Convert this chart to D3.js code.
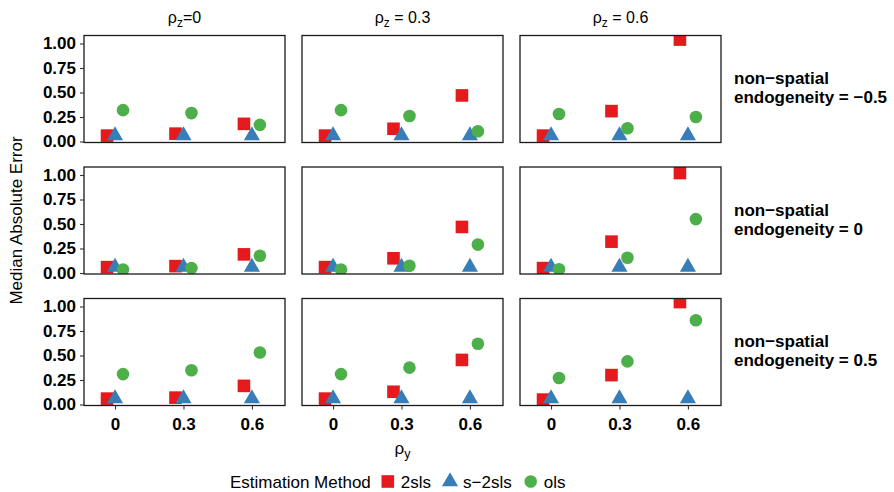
<!DOCTYPE html>
<html>
<head>
<meta charset="utf-8">
<script src="https://cdn.jsdelivr.net/npm/d3@7"></script>
<style>
body { margin: 0; background: #fff; }
text { font-family: "Liberation Sans", Arial, Helvetica, sans-serif; fill: #000; }
</style>
</head>
<body>
<div id="chart"></div>
<script>
// facet levels
var rhoY = [0, 0.3, 0.6];
var rhoYLabels = ["0", "0.3", "0.6"];
var rhoZLabels = ["=0", " = 0.3", " = 0.6"];
var endogLabels = ["\u22120.5", "0", "0.5"];
var yTicks = [0, 0.25, 0.5, 0.75, 1];
var methods = ["2sls", "s\u22122sls", "ols"];
var colors = ["#E41A1C", "#377EB8", "#4DAF4A"];

// median absolute error, [endogeneity row][rho_z column][rho_y]
var mae2sls = [
  [[0.06, 0.08, 0.18], [0.06, 0.13, 0.47], [0.06, 0.31, 1.04]],
  [[0.06, 0.07, 0.19], [0.06, 0.15, 0.47], [0.05, 0.32, 1.02]],
  [[0.06, 0.07, 0.19], [0.06, 0.13, 0.455], [0.05, 0.30, 1.045]]
];
var maeS2sls = [
  [[0.06, 0.06, 0.06], [0.06, 0.06, 0.06], [0.06, 0.06, 0.06]],
  [[0.06, 0.06, 0.06], [0.06, 0.06, 0.06], [0.06, 0.06, 0.06]],
  [[0.06, 0.06, 0.06], [0.06, 0.06, 0.06], [0.06, 0.06, 0.06]]
];
var maeOls = [
  [[0.32, 0.29, 0.17], [0.32, 0.26, 0.105], [0.28, 0.135, 0.25]],
  [[0.036, 0.05, 0.176], [0.036, 0.074, 0.29], [0.039, 0.156, 0.55]],
  [[0.31, 0.35, 0.53], [0.31, 0.376, 0.62], [0.27, 0.44, 0.86]]
];
var dodge = [-0.035, 0, 0.035];

var W = 894, H = 492;
var padLeft = 84, padTop = 35.5, pw = 201, ph = 107, hgap = 17, vgap = 24.5;

var svg = d3.select("#chart").append("svg")
  .attr("width", W).attr("height", H);

var x = d3.scaleLinear().domain([-0.136, 0.745]).range([0, pw]);
var y = d3.scaleLinear().domain([-0.0102, 1.0816]).range([ph, 0]);

var allData = [mae2sls, maeS2sls, maeOls];

function shape(g, m, color) {
  if (m === 0) {
    g.append("rect").attr("x", -6.3).attr("y", -6.3).attr("width", 12.6).attr("height", 12.6).attr("fill", color);
  } else if (m === 1) {
    var r = 9.3;
    g.append("path").attr("d", "M0," + (-r) + "L" + (r * 0.866) + "," + (r / 2) + "L" + (-r * 0.866) + "," + (r / 2) + "Z").attr("fill", color);
  } else {
    g.append("circle").attr("r", 6.3).attr("fill", color);
  }
}

var defs = svg.append("defs");

for (var row = 0; row < 3; row++) {
  for (var col = 0; col < 3; col++) {
    var px = padLeft + col * (pw + hgap), py = padTop + row * (ph + vgap);
    var id = "clip" + row + col;
    defs.append("clipPath").attr("id", id).append("rect").attr("width", pw).attr("height", ph);
    var p = svg.append("g").attr("transform", "translate(" + px + "," + py + ")");
    var inner = p.append("g").attr("clip-path", "url(#" + id + ")");
    for (var m = 0; m < 3; m++) {
      rhoY.forEach(function(ry, i) {
        var g = inner.append("g")
          .attr("transform", "translate(" + x(ry + dodge[m]) + "," + y(allData[m][row][col][i]) + ")");
        shape(g, m, colors[m]);
      });
    }
    p.append("rect").attr("width", pw).attr("height", ph)
      .attr("fill", "none").attr("stroke", "#1a1a1a").attr("stroke-width", 1.3);

    if (col === 0) {
      var ya = p.append("g").call(d3.axisLeft(y).tickValues(yTicks).tickSize(4).tickPadding(4).tickFormat(d3.format(".2f")));
      ya.select(".domain").remove();
      ya.selectAll("line").attr("stroke", "#333").attr("stroke-width", 1.1);
      ya.selectAll("text").attr("font-size", 17).attr("font-weight", "bold").attr("fill", "#000")
        .attr("font-family", "'Liberation Sans', Arial, sans-serif");
    }
    if (row === 2) {
      var xa = p.append("g").attr("transform", "translate(0," + ph + ")")
        .call(d3.axisBottom(x).tickValues(rhoY).tickSize(4).tickPadding(8).tickFormat(function(d, i) { return rhoYLabels[i]; }));
      xa.select(".domain").remove();
      xa.selectAll("line").attr("stroke", "#333").attr("stroke-width", 1.1);
      xa.selectAll("text").attr("font-size", 17).attr("font-weight", "bold").attr("fill", "#000")
        .attr("font-family", "'Liberation Sans', Arial, sans-serif");
    }
    if (row === 0) {
      var t = svg.append("text").attr("x", px + pw / 2).attr("y", 23)
        .attr("text-anchor", "middle").attr("font-size", 16);
      t.append("tspan").text("\u03c1");
      t.append("tspan").attr("dy", 4).attr("font-size", 12).text("z");
      t.append("tspan").attr("dy", -4).text(rhoZLabels[col]);
    }
    if (col === 2) {
      var s = svg.append("text").attr("font-size", 17).attr("font-weight", "bold");
      s.append("tspan").attr("x", px + pw + 13).attr("y", py + ph / 2 - 5).text("non\u2212spatial");
      s.append("tspan").attr("x", px + pw + 13).attr("y", py + ph / 2 + 14).text("endogeneity = " + endogLabels[row]);
    }
  }
}

// axis titles
svg.append("text")
  .attr("transform", "translate(22," + (padTop + (3 * ph + 2 * vgap) / 2) + ") rotate(-90)")
  .attr("text-anchor", "middle").attr("font-size", 17).text("Median Absolute Error");

var xt = svg.append("text").attr("x", padLeft + pw + hgap + pw / 2).attr("y", 454)
  .attr("text-anchor", "middle").attr("font-size", 17);
xt.append("tspan").text("\u03c1");
xt.append("tspan").attr("dy", 4).attr("font-size", 12.5).text("y");

// legend
var leg = svg.append("g");
var lx = 230, ly = 481.5;
var title = leg.append("text").attr("x", lx).attr("y", ly + 6).attr("font-size", 17).text("Estimation Method");
lx += title.node().getComputedTextLength() + 17;
methods.forEach(function(name, m) {
  var g = leg.append("g").attr("transform", "translate(" + lx + "," + ly + ")");
  shape(g, m, colors[m]);
  var tx = leg.append("text").attr("x", lx + 13).attr("y", ly + 6).attr("font-size", 17).text(name);
  lx += 13 + tx.node().getComputedTextLength() + 19;
});
</script>
</body>
</html>
